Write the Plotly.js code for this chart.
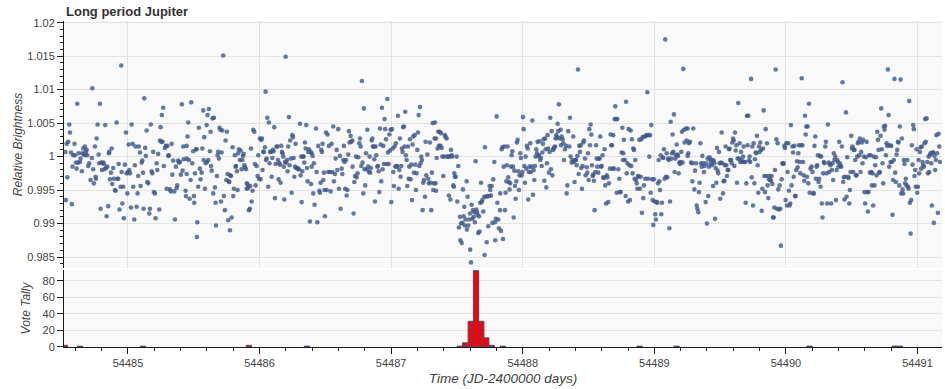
<!DOCTYPE html>
<html><head><meta charset="utf-8">
<script src="https://cdn.plot.ly/plotly-3.0.1.min.js"></script>
<style>html,body{margin:0;padding:0;background:#fff}#chart{width:945px;height:389px}</style>
</head><body><div id="chart"></div>
<script>
// Light curve: time (JD-2400000) and relative brightness, read segment by segment
const t6=[54484.534,54484.546,54484.524,54484.554,54484.559,54484.539,54484.529,54484.574,54484.567,54484.584,54484.594,54484.579,54484.597,54484.605,54484.615,54484.622,54484.625,54484.610,54484.635,54484.640,54484.650,54484.653,54484.660,54484.665,54484.673,54484.681,54484.676,54484.686,54484.691,54484.698,54484.706,54484.716,54484.726,54484.729,54484.736,54484.741,54484.749,54484.754,54484.757,54484.762,54484.769,54484.777,54484.782,54484.787,54484.792,54484.797,54484.802,54484.812,54484.817,54484.822,54484.827,54484.833,54484.838,54484.843,54484.850,54484.855,54484.858,54484.863,54484.871,54484.876,54484.881,54484.888,54484.893,54484.901,54484.906,54484.914,54484.919,54484.926,54484.929,54484.936,54484.944,54484.949,54484.952,54484.957,54484.964,54484.969,54484.977,54484.985,54484.990,54484.995,54485.000,54485.005,54485.010,54485.015,54485.023,54485.028,54485.035,54485.040,54485.048,54485.053,54485.058,54485.066,54485.073,54485.078,54485.083,54485.091,54485.096,54485.104,54485.109,54485.114,54485.119,54485.124,54485.131,54485.136,54485.142,54485.147,54485.154,54485.162,54485.167,54485.174,54485.180,54485.185,54485.192,54485.197,54485.205,54485.210,54485.218,54485.223,54485.230,54485.238,54485.243,54485.248,54485.253,54485.258,54485.263,54485.268,54485.273,54485.281,54485.289,54485.294,54485.299,54485.306,54485.311,54485.319,54485.326,54485.332,54485.337,54485.344,54485.352,54485.357,54485.364,54485.370,54485.375,54485.382,54485.387,54485.395,54485.402,54485.410,54485.415,54485.420,54485.425];
const f6=[1.0019,1.0022,1.0007,1.0048,1.0036,0.9969,0.9935,0.9929,1.0006,1.0002,1.0019,0.9985,1.0002,0.9991,1.0079,0.9991,1.0005,0.9982,0.9992,0.9997,0.9978,1.0005,1.0012,1.0003,1.0015,1.0007,1.0002,1.0010,1.0002,0.9986,0.9990,0.9965,0.9998,1.0102,0.9981,0.9960,1.0015,0.9970,0.9967,1.0027,1.0048,1.0003,0.9990,1.0079,0.9922,0.9991,0.9980,0.9991,0.9989,0.9981,1.0047,0.9983,0.9911,0.9985,0.9926,1.0005,1.0007,0.9966,0.9976,1.0012,0.9959,0.9983,0.9967,0.9950,0.9949,1.0051,0.9967,0.9967,0.9989,0.9921,0.9955,1.0136,0.9977,0.9930,0.9955,0.9908,0.9988,1.0036,0.9975,0.9945,0.9977,1.0018,0.9980,0.9975,0.9924,1.0048,1.0019,0.9955,0.9906,0.9987,1.0015,0.9925,0.9945,0.9971,1.0015,1.0006,0.9956,0.9991,0.9994,0.9976,0.9922,1.0087,1.0013,1.0001,1.0039,0.9962,0.9960,0.9915,0.9922,1.0048,0.9978,0.9975,1.0007,0.9947,0.9945,0.9908,0.9990,0.9980,1.0004,0.9921,1.0024,1.0044,1.0022,1.0062,1.0022,1.0073,0.9986,1.0013,1.0016,0.9952,1.0016,1.0001,1.0002,0.9951,0.9948,1.0019,0.9973,0.9994,0.9948,0.9906,0.9985,0.9953,0.9957,0.9994,0.9991,0.9992,0.9973,1.0078,0.9979,1.0015,0.9996];
const t7=[54485.446,54485.453,54485.458,54485.446,54485.446,54485.438,54485.441,54485.463,54485.468,54485.476,54485.481,54485.489,54485.496,54485.501,54485.504,54485.509,54485.517,54485.522,54485.527,54485.524,54485.534,54485.539,54485.547,54485.552,54485.560,54485.565,54485.572,54485.575,54485.580,54485.585,54485.590,54485.598,54485.600,54485.605,54485.610,54485.615,54485.623,54485.628,54485.631,54485.636,54485.643,54485.648,54485.653,54485.661,54485.666,54485.669,54485.676,54485.681,54485.686,54485.691,54485.696,54485.702,54485.707,54485.712,54485.717,54485.724,54485.729,54485.737,54485.742,54485.747,54485.752,54485.757,54485.762,54485.765,54485.770,54485.775,54485.777,54485.783,54485.788,54485.795,54485.800,54485.805,54485.813,54485.818,54485.821,54485.828,54485.833,54485.838,54485.843,54485.851,54485.856,54485.864,54485.869,54485.874,54485.879,54485.884,54485.889,54485.897,54485.902,54485.904,54485.909,54485.914,54485.919,54485.927,54485.929,54485.935,54485.940,54485.947,54485.952,54485.960,54485.965,54485.970,54485.978,54485.985,54485.990,54485.995,54486.003,54486.008,54486.013,54486.018,54486.023,54486.028,54486.033,54486.041,54486.046,54486.049,54486.054,54486.059,54486.066,54486.071,54486.076,54486.081,54486.086,54486.092,54486.097,54486.102,54486.107,54486.112,54486.117,54486.122,54486.130,54486.135,54486.140,54486.145,54486.150,54486.155,54486.160,54486.165,54486.170,54486.175,54486.180,54486.185,54486.188,54486.193,54486.198,54486.203,54486.208,54486.213,54486.218,54486.223,54486.228,54486.233,54486.238,54486.244,54486.249,54486.254,54486.259,54486.264,54486.269,54486.274,54486.279,54486.284,54486.289,54486.294,54486.299,54486.307,54486.312,54486.317,54486.320,54486.325,54486.330,54486.335,54486.340,54486.345,54486.350,54486.355,54486.360,54486.365,54486.370,54486.375];
const f7=[1.0016,1.0030,1.0051,0.9997,0.9974,0.9949,0.9941,0.9995,0.9937,0.9965,1.0081,0.9990,1.0008,0.9941,0.9931,0.9975,1.0011,1.0011,0.9902,0.9880,0.9955,1.0043,0.9982,0.9966,0.9976,1.0012,1.0069,0.9995,1.0029,0.9952,0.9990,1.0047,0.9992,1.0062,0.9995,1.0071,1.0008,1.0037,0.9986,0.9979,1.0057,0.9945,1.0058,0.9954,0.9931,0.9897,0.9971,1.0002,1.0007,0.9997,1.0043,1.0040,0.9933,1.0006,1.0039,1.0151,0.9941,0.9920,1.0024,0.9965,1.0037,0.9974,0.9905,0.9963,0.9962,0.9890,0.9972,0.9971,0.9909,1.0014,0.9941,0.9952,1.0002,0.9985,0.9986,0.9978,0.9950,1.0005,1.0011,0.9995,1.0009,0.9981,0.9995,1.0001,1.0004,0.9987,0.9984,0.9981,0.9952,0.9960,0.9958,0.9953,0.9920,0.9922,0.9956,1.0012,0.9933,0.9949,1.0040,1.0037,0.9989,0.9957,0.9986,0.9971,1.0002,0.9967,1.0027,0.9966,1.0025,1.0027,0.9980,1.0007,1.0007,1.0014,1.0097,0.9995,0.9997,1.0058,0.9955,1.0051,0.9990,1.0007,1.0007,0.9970,0.9998,1.0010,1.0008,1.0044,0.9938,0.9989,1.0015,1.0015,0.9995,0.9966,0.9990,0.9988,0.9961,1.0016,1.0007,1.0005,1.0000,0.9985,0.9936,0.9992,1.0149,0.9991,0.9995,0.9978,1.0015,1.0059,0.9987,1.0024,0.9997,0.9946,1.0032,1.0029,0.9998,0.9970,0.9985,1.0019,0.9983,0.9983,0.9983,0.9981,0.9981,1.0049,0.9972,1.0000,0.9932,0.9978,1.0000,1.0000,0.9991,1.0021,1.0012,1.0047,0.9983,0.9963,1.0007,1.0011];
const t8=[54486.388,54486.396,54486.403,54486.396,54486.391,54486.408,54486.413,54486.418,54486.383,54486.429,54486.434,54486.439,54486.446,54486.454,54486.459,54486.464,54486.469,54486.474,54486.479,54486.484,54486.489,54486.497,54486.494,54486.505,54486.510,54486.517,54486.522,54486.527,54486.535,54486.540,54486.548,54486.553,54486.560,54486.565,54486.573,54486.578,54486.586,54486.591,54486.598,54486.603,54486.611,54486.616,54486.624,54486.629,54486.636,54486.641,54486.646,54486.651,54486.657,54486.662,54486.667,54486.674,54486.679,54486.684,54486.692,54486.697,54486.705,54486.707,54486.715,54486.720,54486.725,54486.733,54486.738,54486.745,54486.750,54486.758,54486.763,54486.768,54486.773,54486.778,54486.783,54486.788,54486.793,54486.798,54486.803,54486.809,54486.814,54486.819,54486.826,54486.831,54486.836,54486.841,54486.846,54486.852,54486.857,54486.862,54486.867,54486.872,54486.877,54486.882,54486.887,54486.895,54486.900,54486.905,54486.910,54486.915,54486.920,54486.925,54486.930,54486.935,54486.940,54486.945,54486.950,54486.955,54486.961,54486.966,54486.971,54486.976,54486.981,54486.986,54486.991,54486.996,54487.001,54487.006,54487.011,54487.016,54487.021,54487.026,54487.031,54487.036,54487.042,54487.047,54487.052,54487.057,54487.062,54487.067,54487.072,54487.077,54487.082,54487.087,54487.092,54487.097,54487.102,54487.107,54487.112,54487.118,54487.123,54487.128,54487.133,54487.138,54487.143,54487.148,54487.153,54487.158,54487.163,54487.168,54487.173,54487.178,54487.183,54487.188,54487.194,54487.199,54487.204,54487.209,54487.214,54487.219,54487.224,54487.229,54487.234,54487.239,54487.244,54487.249,54487.257,54487.262,54487.267,54487.275,54487.282,54487.287,54487.295,54487.300,54487.305,54487.310,54487.315,54487.320,54487.325,54487.330];
const f8=[1.0007,1.0005,1.0001,0.9985,0.9959,0.9945,0.9990,0.9928,0.9903,1.0042,0.9977,0.9902,1.0016,0.9949,0.9946,0.9961,1.0010,1.0007,1.0019,0.9965,0.9976,0.9911,0.9950,1.0036,0.9950,1.0033,0.9977,1.0016,0.9977,0.9948,1.0019,0.9977,1.0045,0.9963,0.9974,0.9997,1.0010,0.9980,1.0041,0.9952,1.0001,0.9922,0.9982,0.9974,0.9995,1.0016,0.9992,0.9952,0.9995,0.9942,0.9950,1.0003,1.0038,1.0021,1.0031,1.0022,1.0024,0.9985,0.9915,0.9962,0.9971,1.0000,0.9969,0.9975,0.9999,1.0020,1.0027,1.0015,0.9986,1.0113,0.9991,0.9945,1.0072,0.9981,0.9957,1.0005,0.9981,1.0040,0.9985,0.9977,1.0000,0.9976,0.9983,1.0024,1.0027,1.0015,1.0015,0.9996,0.9933,1.0015,1.0002,0.9985,0.9986,0.9978,0.9947,1.0042,1.0018,0.9963,1.0073,0.9981,1.0016,0.9989,1.0056,1.0041,1.0026,0.9989,1.0086,1.0006,0.9989,1.0033,1.0009,1.0040,0.9932,1.0041,1.0012,0.9977,0.9956,1.0015,0.9985,1.0020,0.9986,0.9985,1.0061,0.9952,0.9980,1.0027,0.9970,0.9986,1.0012,1.0007,1.0044,1.0045,1.0015,1.0067,1.0002,0.9995,0.9956,1.0015,0.9967,0.9985,1.0026,0.9966,0.9988,0.9935,1.0018,1.0030,0.9976,1.0032,0.9988,0.9950,0.9975,1.0010,1.0036,1.0062,0.9986,1.0074,0.9990,1.0000,0.9995,0.9920,0.9961,0.9965,0.9940,1.0022,0.9972,1.0003,0.9967,0.9960,1.0021,0.9961,0.9920,0.9976,1.0050,0.9950,0.9960,1.0027];
const t9=[54487.333,54487.341,54487.346,54487.338,54487.341,54487.353,54487.358,54487.363,54487.368,54487.374,54487.379,54487.384,54487.389,54487.396,54487.404,54487.409,54487.414,54487.422,54487.427,54487.434,54487.439,54487.444,54487.450,54487.455,54487.460,54487.465,54487.472,54487.477,54487.480,54487.485,54487.490,54487.498,54487.503,54487.510,54487.515,54487.523,54487.526,54487.531,54487.536,54487.541,54487.546,54487.551,54487.556,54487.561,54487.566,54487.574,54487.576,54487.581,54487.586,54487.594,54487.599,54487.601,54487.607,54487.612,54487.617,54487.622,54487.627,54487.632,54487.637,54487.642,54487.647,54487.652,54487.657,54487.662,54487.667,54487.672,54487.677,54487.683,54487.688,54487.693,54487.700,54487.708,54487.710,54487.713,54487.718,54487.726,54487.731,54487.738,54487.743,54487.748,54487.753,54487.759,54487.764,54487.769,54487.776,54487.784,54487.789,54487.791,54487.796,54487.802,54487.807,54487.814,54487.819,54487.827,54487.829,54487.835,54487.840,54487.845,54487.850,54487.855,54487.860,54487.865,54487.870,54487.875,54487.880,54487.885,54487.890,54487.895,54487.900,54487.905,54487.911,54487.916,54487.921,54487.926,54487.931,54487.936,54487.941,54487.946,54487.951,54487.956,54487.961,54487.966,54487.971,54487.976,54487.981,54487.986,54487.992,54487.997,54488.002,54488.007,54488.012,54488.017,54488.022,54488.027,54488.032,54488.037,54488.042,54488.047,54488.052,54488.057,54488.062,54488.068,54488.073,54488.078,54488.083,54488.088,54488.093,54488.098,54488.103,54488.108,54488.113,54488.118,54488.123,54488.128,54488.133,54488.138,54488.144,54488.149,54488.154,54488.159,54488.164,54488.169,54488.174,54488.179,54488.184,54488.189,54488.194,54488.199,54488.204,54488.209,54488.214,54488.220,54488.225,54488.230,54488.235,54488.240,54488.245,54488.250,54488.255,54488.260,54488.265,54488.270,54488.275,54488.280];
const f9=[1.0051,1.0027,0.9998,0.9960,0.9949,1.0012,1.0037,1.0016,1.0037,1.0016,1.0035,1.0013,1.0000,0.9971,1.0000,1.0032,1.0029,1.0027,1.0000,1.0000,0.9942,1.0000,0.9936,1.0010,1.0002,1.0000,0.9957,0.9955,0.9975,0.9970,0.9970,1.0000,0.9933,0.9986,0.9894,0.9910,0.9875,0.9900,0.9871,0.9901,0.9951,0.9911,0.9925,0.9897,0.9906,0.9963,0.9891,0.9940,0.9897,0.9906,0.9915,0.9861,0.9842,0.9928,0.9907,0.9920,0.9910,0.9917,0.9902,0.9993,0.9921,0.9917,0.9913,0.9886,0.9911,0.9888,0.9931,0.9961,0.9932,0.9935,0.9918,0.9940,0.9853,1.0014,0.9940,0.9872,0.9941,0.9896,0.9941,0.9956,0.9950,0.9942,0.9956,0.9901,0.9966,0.9992,0.9902,0.9875,0.9907,1.0060,0.9931,0.9906,0.9893,0.9920,0.9945,0.9889,1.0011,1.0014,0.9877,0.9985,1.0015,0.9920,0.9946,0.9963,0.9987,1.0015,0.9969,0.9962,0.9951,0.9960,0.9985,1.0002,1.0008,0.9985,0.9909,0.9979,0.9956,0.9937,0.9963,1.0021,1.0025,0.9978,0.9950,0.9972,1.0005,0.9998,0.9972,0.9977,1.0059,1.0041,0.9986,0.9961,1.0000,0.9982,1.0016,1.0012,0.9936,0.9977,0.9985,1.0020,0.9977,0.9985,1.0054,0.9943,0.9980,0.9965,0.9986,1.0000,1.0011,1.0005,1.0022,1.0001,1.0002,1.0023,0.9995,0.9998,0.9986,1.0006,1.0019,1.0026,0.9964,1.0027,1.0011,0.9954,0.9990,1.0032,1.0012,0.9976,1.0007,1.0058,0.9981,1.0038,0.9972,1.0010,1.0012,1.0014,1.0015,1.0027,1.0032,1.0029,1.0049,1.0038,1.0078,1.0027];
const t10=[54488.288,54488.296,54488.303,54488.291,54488.308,54488.313,54488.321,54488.329,54488.334,54488.339,54488.346,54488.354,54488.359,54488.364,54488.372,54488.377,54488.384,54488.389,54488.394,54488.400,54488.405,54488.410,54488.415,54488.420,54488.425,54488.430,54488.435,54488.440,54488.445,54488.450,54488.455,54488.460,54488.465,54488.473,54488.478,54488.486,54488.491,54488.496,54488.501,54488.506,54488.511,54488.516,54488.521,54488.526,54488.531,54488.536,54488.541,54488.546,54488.551,54488.557,54488.562,54488.567,54488.574,54488.579,54488.584,54488.589,54488.595,54488.600,54488.607,54488.612,54488.617,54488.622,54488.627,54488.633,54488.638,54488.643,54488.650,54488.655,54488.663,54488.668,54488.673,54488.678,54488.683,54488.688,54488.693,54488.698,54488.703,54488.709,54488.714,54488.719,54488.726,54488.734,54488.739,54488.744,54488.752,54488.757,54488.762,54488.764,54488.769,54488.777,54488.782,54488.785,54488.790,54488.795,54488.800,54488.805,54488.810,54488.815,54488.820,54488.825,54488.830,54488.835,54488.840,54488.845,54488.850,54488.855,54488.861,54488.866,54488.871,54488.876,54488.881,54488.886,54488.891,54488.896,54488.901,54488.906,54488.911,54488.916,54488.921,54488.926,54488.931,54488.936,54488.942,54488.947,54488.952,54488.957,54488.962,54488.967,54488.972,54488.977,54488.982,54488.987,54488.992,54488.997,54489.002,54489.007,54489.012,54489.018,54489.023,54489.028,54489.033,54489.038,54489.043,54489.048,54489.053,54489.058,54489.063,54489.068,54489.073,54489.078,54489.083,54489.088,54489.094,54489.099,54489.104,54489.109,54489.114,54489.119,54489.124,54489.129,54489.134,54489.139,54489.144,54489.149,54489.154,54489.159,54489.164,54489.170,54489.175,54489.180,54489.185,54489.190,54489.195,54489.200,54489.205,54489.210,54489.215,54489.220,54489.225,54489.230];
const f10=[1.0040,1.0030,1.0026,1.0017,1.0020,0.9995,1.0011,1.0016,0.9945,0.9957,1.0038,1.0015,1.0058,1.0000,0.9991,0.9995,1.0030,0.9992,0.9962,0.9995,0.9995,0.9987,1.0001,1.0130,0.9974,1.0016,1.0007,1.0017,0.9983,0.9952,0.9986,1.0021,1.0024,0.9997,0.9972,0.9984,0.9976,1.0005,0.9965,1.0041,1.0017,1.0048,1.0033,0.9987,0.9971,0.9973,0.9964,0.9920,0.9977,1.0017,0.9997,0.9985,0.9976,0.9997,0.9997,1.0030,0.9985,0.9986,1.0002,0.9969,0.9968,1.0011,0.9957,0.9930,0.9972,0.9969,0.9932,0.9960,0.9982,1.0033,1.0017,1.0017,0.9982,1.0032,0.9982,1.0056,1.0075,1.0056,0.9946,1.0056,0.9981,0.9967,0.9947,0.9947,1.0006,1.0043,0.9995,1.0005,1.0025,0.9995,0.9941,1.0082,0.9975,0.9990,0.9933,1.0041,0.9987,0.9935,1.0039,0.9986,1.0026,0.9975,1.0012,1.0010,0.9967,0.9995,0.9965,0.9960,0.9952,0.9971,0.9970,1.0025,0.9952,0.9970,1.0026,0.9916,1.0029,0.9938,0.9957,1.0030,0.9967,1.0031,1.0032,1.0096,0.9967,1.0032,1.0000,1.0032,0.9946,1.0047,0.9966,0.9935,0.9898,0.9966,0.9933,0.9914,0.9906,0.9932,0.9931,0.9960,0.9995,0.9963,0.9950,1.0002,0.9914,0.9931,0.9999,0.9998,1.0011,0.9967,1.0175,0.9970,1.0005,0.9969,0.9997,0.9995,0.9893,0.9933,1.0052,0.9997,1.0005,1.0033,1.0007,1.0063,0.9977,0.9997,1.0002,1.0018,1.0003,1.0001,0.9975,0.9991,0.9989,0.9992,1.0007,1.0037,0.9991,1.0131,1.0040,1.0021];
const t11=[54489.241,54489.253,54489.246,54489.263,54489.271,54489.258,54489.253,54489.279,54489.289,54489.296,54489.289,54489.304,54489.309,54489.317,54489.322,54489.327,54489.334,54489.339,54489.344,54489.350,54489.355,54489.360,54489.365,54489.372,54489.377,54489.382,54489.390,54489.395,54489.400,54489.405,54489.410,54489.415,54489.420,54489.426,54489.431,54489.436,54489.441,54489.446,54489.451,54489.456,54489.461,54489.466,54489.471,54489.476,54489.481,54489.486,54489.491,54489.496,54489.501,54489.507,54489.512,54489.517,54489.522,54489.527,54489.532,54489.537,54489.542,54489.547,54489.552,54489.557,54489.562,54489.567,54489.572,54489.577,54489.583,54489.588,54489.593,54489.598,54489.603,54489.608,54489.613,54489.618,54489.623,54489.628,54489.633,54489.638,54489.643,54489.648,54489.653,54489.659,54489.664,54489.669,54489.674,54489.679,54489.684,54489.689,54489.694,54489.699,54489.704,54489.709,54489.714,54489.719,54489.724,54489.729,54489.735,54489.740,54489.745,54489.750,54489.755,54489.760,54489.765,54489.770,54489.775,54489.780,54489.785,54489.790,54489.795,54489.800,54489.805,54489.811,54489.816,54489.821,54489.826,54489.831,54489.836,54489.841,54489.846,54489.851,54489.856,54489.861,54489.866,54489.871,54489.876,54489.881,54489.886,54489.891,54489.897,54489.902,54489.907,54489.912,54489.917,54489.922,54489.927,54489.932,54489.937,54489.942,54489.947,54489.952,54489.957,54489.962,54489.968,54489.973,54489.978,54489.983,54489.988,54489.993,54489.998,54490.003,54490.008,54490.013,54490.018,54490.023,54490.028,54490.033,54490.038,54490.043,54490.049,54490.054,54490.059,54490.064,54490.069,54490.074,54490.079,54490.084,54490.089,54490.094,54490.099,54490.104,54490.109,54490.114,54490.120,54490.125,54490.130,54490.135,54490.140,54490.145,54490.150,54490.155,54490.160,54490.165,54490.170,54490.175,54490.180];
const f11=[1.0042,1.0042,1.0024,1.0020,1.0022,1.0005,1.0001,0.9991,0.9990,1.0042,0.9963,0.9951,0.9979,0.9990,0.9927,0.9922,0.9917,0.9947,0.9961,1.0020,0.9990,0.9985,1.0001,0.9990,0.9977,0.9986,0.9932,0.9990,0.9900,0.9997,0.9941,0.9985,0.9999,0.9995,0.9990,0.9987,0.9995,0.9956,0.9994,0.9990,0.9907,0.9983,0.9961,1.0013,0.9979,0.9975,1.0007,0.9990,0.9937,0.9991,1.0036,0.9990,0.9945,0.9963,0.9964,0.9987,1.0015,0.9987,0.9971,0.9980,0.9980,1.0011,1.0012,0.9995,0.9995,0.9990,1.0021,1.0027,1.0024,0.9986,1.0036,1.0009,1.0017,0.9961,0.9997,1.0080,0.9997,1.0020,0.9992,1.0007,0.9995,0.9992,1.0000,1.0015,0.9992,0.9992,0.9931,0.9960,1.0061,1.0017,1.0061,0.9994,1.0000,0.9992,1.0116,0.9969,1.0015,0.9927,1.0020,0.9960,0.9996,1.0006,1.0005,1.0031,0.9987,0.9946,1.0015,1.0007,1.0021,1.0010,0.9919,0.9952,1.0012,1.0069,0.9971,0.9947,1.0041,0.9971,1.0020,0.9957,0.9938,0.9966,0.9971,0.9965,0.9964,0.9971,0.9959,0.9909,0.9909,0.9924,0.9980,1.0130,1.0026,0.9922,1.0020,0.9951,0.9921,0.9957,0.9922,0.9867,0.9966,0.9990,0.9989,0.9990,1.0016,1.0013,0.9935,1.0020,0.9927,0.9977,1.0020,0.9949,0.9927,0.9930,1.0047,0.9957,1.0015,1.0006,0.9970,1.0016,0.9941,0.9941,0.9980,0.9993,0.9984,1.0005,1.0017,0.9992,0.9975,1.0017,1.0117,1.0017,0.9992,0.9972,0.9964,1.0061,1.0033,1.0045,0.9970,1.0045,0.9960,1.0079,0.9946];
const t12=[54490.187,54490.195,54490.202,54490.207,54490.212,54490.217,54490.223,54490.228,54490.233,54490.238,54490.243,54490.248,54490.253,54490.258,54490.263,54490.268,54490.273,54490.278,54490.283,54490.288,54490.293,54490.299,54490.304,54490.309,54490.314,54490.319,54490.324,54490.329,54490.334,54490.339,54490.344,54490.349,54490.354,54490.359,54490.364,54490.369,54490.375,54490.380,54490.385,54490.390,54490.395,54490.400,54490.405,54490.410,54490.415,54490.420,54490.425,54490.430,54490.435,54490.440,54490.445,54490.450,54490.456,54490.461,54490.466,54490.471,54490.476,54490.481,54490.486,54490.491,54490.496,54490.501,54490.506,54490.511,54490.516,54490.521,54490.526,54490.532,54490.537,54490.542,54490.547,54490.552,54490.557,54490.562,54490.567,54490.572,54490.577,54490.582,54490.587,54490.592,54490.597,54490.602,54490.608,54490.613,54490.618,54490.623,54490.628,54490.633,54490.638,54490.643,54490.648,54490.653,54490.658,54490.663,54490.668,54490.673,54490.678,54490.684,54490.689,54490.694,54490.699,54490.704,54490.709,54490.714,54490.719,54490.724,54490.729,54490.734,54490.739,54490.744,54490.749,54490.754,54490.760,54490.765,54490.770,54490.775,54490.780,54490.785,54490.790,54490.795,54490.800,54490.805,54490.810,54490.815,54490.820,54490.825,54490.830,54490.835,54490.841,54490.846,54490.851,54490.856,54490.861,54490.866,54490.871,54490.876,54490.881,54490.886,54490.891,54490.896,54490.901,54490.906,54490.911,54490.917,54490.922,54490.927,54490.932,54490.937,54490.942,54490.947,54490.952,54490.957,54490.962,54490.967,54490.972,54490.977,54490.982,54490.987,54490.993,54490.998,54491.003,54491.008,54491.013,54491.018,54491.023,54491.028,54491.033,54491.038,54491.043,54491.048,54491.053,54491.058,54491.063,54491.069,54491.074,54491.079,54491.084,54491.089,54491.094,54491.099,54491.104,54491.109,54491.114,54491.119,54491.124,54491.129,54491.134,54491.139,54491.144,54491.149,54491.155,54491.160,54491.165,54491.170];
const f12=[0.9982,0.9985,0.9977,0.9945,0.9945,1.0016,1.0030,0.9967,0.9985,0.9987,1.0002,0.9962,0.9967,1.0001,0.9955,1.0000,0.9930,0.9909,0.9975,0.9992,0.9990,1.0015,1.0022,0.9975,0.9930,1.0048,0.9991,0.9977,0.9989,0.9987,0.9930,0.9980,0.9990,0.9965,1.0005,0.9995,1.0000,0.9935,0.9980,0.9995,0.9992,0.9985,1.0022,0.9990,0.9986,0.9985,1.0015,1.0111,0.9962,0.9969,0.9936,0.9970,1.0066,0.9940,0.9999,0.9970,0.9968,0.9930,0.9950,0.9977,1.0031,1.0012,1.0015,0.9977,1.0010,1.0010,0.9995,0.9972,0.9972,1.0000,1.0020,1.0022,1.0002,1.0027,0.9977,1.0007,1.0021,0.9990,1.0025,1.0000,0.9947,0.9930,0.9999,1.0022,0.9947,0.9918,0.9947,1.0002,0.9976,1.0002,0.9977,0.9957,0.9975,0.9927,1.0000,0.9957,0.9987,0.9999,0.9972,1.0037,1.0025,1.0010,0.9976,0.9977,1.0031,1.0072,1.0011,0.9990,0.9960,1.0045,1.0040,1.0046,1.0002,1.0020,1.0016,1.0130,1.0062,0.9985,1.0017,0.9992,1.0016,0.9992,0.9913,0.9965,0.9995,1.0116,0.9976,0.9962,1.0003,1.0010,1.0022,1.0021,0.9957,1.0045,1.0115,0.9945,1.0027,0.9951,0.9945,0.9995,0.9989,0.9960,0.9967,0.9957,0.9995,0.9955,0.9952,1.0083,0.9931,0.9885,0.9935,1.0017,0.9988,1.0047,1.0041,0.9971,0.9980,0.9955,1.0011,0.9946,0.9955,0.9995,0.9975,1.0007,1.0014,0.9982,1.0015,0.9992,0.9987,0.9985,1.0020,1.0056,1.0022,1.0057,0.9992,0.9975,1.0000,0.9977,1.0002,1.0005,0.9990,0.9927,1.0006,1.0006,0.9901,1.0001,0.9980,0.9995,1.0032,1.0005,0.9916,1.0034,1.0015,0.9992];

// Vote tally histogram (bin centres and counts)
const voteTime=[54484.521,54484.635,54485.114,54485.919,54486.360,54487.522,54487.562,54487.605,54487.645,54487.685,54487.723,54487.764,54487.848,54488.888,54489.169,54490.179,54490.826,54490.866];
const voteCount=[2,1,1,2,1,1,5,31,92,31,11,2,1,1,1,1,1,1];

const xTicks=[54485,54486,54487,54488,54489,54490,54491];

function pairUp(ts,fs){const n=Math.min(ts.length,fs.length);return [ts.slice(0,n),fs.slice(0,n)];}
let time=[],flux=[];
[[t6,f6],[t7,f7],[t8,f8],[t9,f9],[t10,f10],[t11,f11],[t12,f12]].forEach(function(p){
  const q=pairUp(p[0],p[1]); time=time.concat(q[0]); flux=flux.concat(q[1]);
});

const axisCol='#1a1a1a', gridCol='#e3e3e3';
const traces=[
  {type:'scatter',mode:'markers',x:time,y:flux,xaxis:'x',yaxis:'y',
   marker:{size:4.6,color:'rgba(62,88,138,0.8)'},hoverinfo:'skip'},
  {type:'bar',x:voteTime,y:voteCount,width:0.04,xaxis:'x2',yaxis:'y2',
   marker:{color:'#ff0000',line:{color:'#3d4c72',width:1}},hoverinfo:'skip'}
];
const xr=[54484.514,54491.186];
const layout={
  width:945,height:389,margin:{l:64,r:3,t:21,b:42},
  paper_bgcolor:'#ffffff',plot_bgcolor:'#f9f9f9',showlegend:false,bargap:0,
  font:{family:'"Liberation Sans", Arial, sans-serif',size:11,color:'#444'},
  title:{text:'<b>Long period Jupiter</b>',xref:'container',yref:'container',x:66/945,xanchor:'left',y:1-11/389,yanchor:'middle',
         font:{size:13,color:'#333'}},
  xaxis:{domain:[0,1],anchor:'y',range:xr,showticklabels:false,ticks:'',tickvals:xTicks,
         showgrid:true,gridcolor:gridCol,gridwidth:1,zeroline:false,showline:false},
  xaxis2:{domain:[0,1],anchor:'y2',matches:'x',range:xr,tickvals:xTicks,tickformat:'d',
          ticks:'outside',ticklen:6,tickwidth:1,tickcolor:axisCol,showline:true,linecolor:axisCol,linewidth:1,
          showgrid:false,zeroline:false,
          minor:{dtick:0.2,tick0:54485,ticks:'outside',ticklen:3,tickwidth:1,tickcolor:axisCol,showgrid:false},
          title:{text:'<i>Time (JD-2400000 days)</i>',font:{size:13.5,color:'#444'},standoff:5}},
  yaxis:{domain:[0.2423,1],anchor:'x',range:[0.98336,1.02025],dtick:0.005,tick0:1,
         ticks:'outside',ticklen:6,tickwidth:1,tickcolor:axisCol,showline:true,linecolor:axisCol,linewidth:1,
         showgrid:true,gridcolor:gridCol,zeroline:false,
         minor:{dtick:0.001,tick0:1,ticks:'outside',ticklen:3,tickwidth:1,tickcolor:axisCol,showgrid:false},
         title:{text:'<i>Relative Brightness</i>',font:{size:12,color:'#444'}}},
  yaxis2:{domain:[0,0.2362],anchor:'x2',range:[0,92.9],dtick:20,tick0:0,
          ticks:'outside',ticklen:6,tickwidth:1,tickcolor:axisCol,showline:true,linecolor:axisCol,linewidth:1,
          showgrid:true,gridcolor:gridCol,zeroline:false,
          title:{text:'<i>Vote Tally</i>',font:{size:12,color:'#444'}}}
};
Plotly.newPlot('chart',traces,layout,{displayModeBar:false,staticPlot:true});
</script>
</body></html>
